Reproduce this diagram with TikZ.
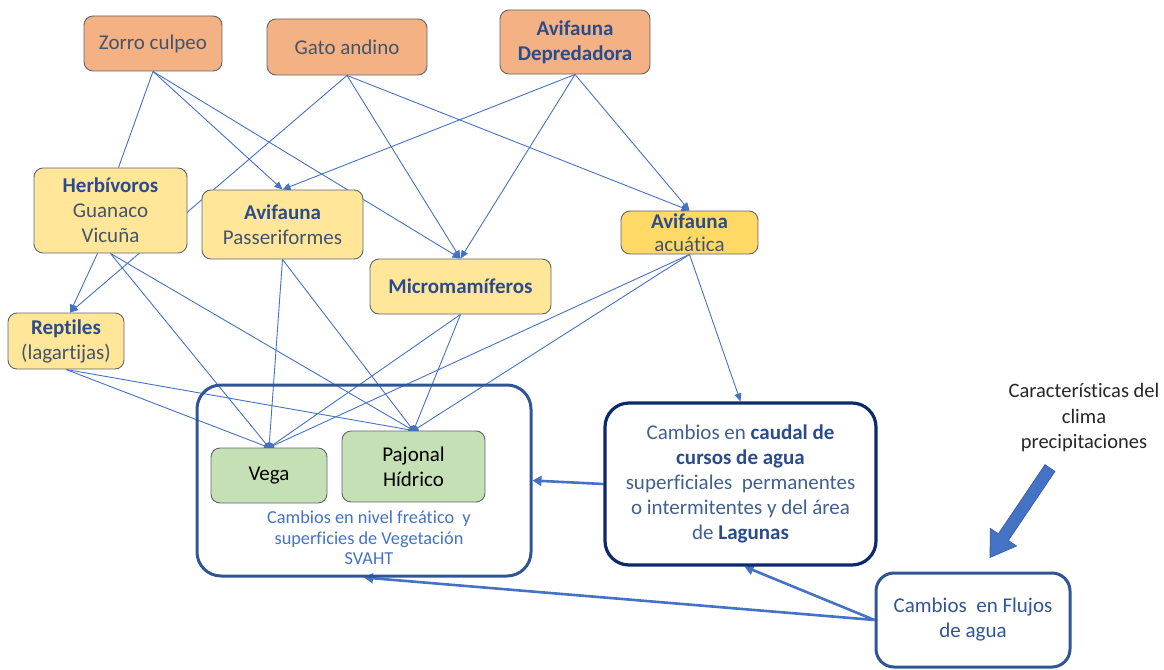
\documentclass[tikz,border=0pt]{standalone}
\usepackage{fontspec}
\setmainfont[Ligatures=NoCommon]{Carlito}
\usetikzlibrary{arrows.meta,calc}
\pgfdeclarelayer{bg}
\pgfsetlayers{bg,main}
\definecolor{predfill}{HTML}{F4B183}
\definecolor{preyfill}{HTML}{FFE699}
\definecolor{acufill}{HTML}{FFD966}
\definecolor{vegfill}{HTML}{C5E0B4}
\definecolor{boxline}{HTML}{5F6670}
\definecolor{slate}{HTML}{44546A}
\definecolor{boldblue}{HTML}{2B4C8C}
\definecolor{linkblue}{HTML}{4472C4}
\definecolor{bigblue}{HTML}{2F5597}
\definecolor{navy}{HTML}{0B2A6B}
\definecolor{caudaltext}{HTML}{41608F}
\tikzset{
  base/.style={rounded corners=9pt, align=center, inner sep=0pt, font=\fontsize{21}{25}\selectfont},
  pred/.style={base, fill=predfill, draw=boxline, line width=0.9pt, text=slate},
  prey/.style={base, fill=preyfill, draw=boxline, line width=0.9pt, text=slate},
  veg/.style={base, fill=vegfill, draw=boxline, line width=0.9pt, text=black},
  bigbox/.style={base, rounded corners=24pt, line width=3pt},
  link/.style={draw=linkblue, line width=0.9pt},
  linkarr/.style={link, -{Triangle[length=8pt,width=7pt]}},
  flowarrow/.style={draw=linkblue, line width=2.6pt, -{Triangle[length=9pt,width=10pt]}},
  bigarrow/.style={fill=linkblue, draw=linkblue!80!black, line width=0.6pt},
  dotmark/.style={fill=linkblue},
}
\begin{document}
\begin{tikzpicture}[x=1pt,y=-1pt]
\useasboundingbox (0,0) rectangle (1164,669);
% predators
\node[pred, minimum width=138pt, minimum height=55pt] (zorro) at (153,43.5) {Zorro culpeo};
\node[pred, minimum width=160pt, minimum height=56pt] (gato) at (347,47) {Gato andino};
\node[pred, minimum width=150pt, minimum height=64pt, text=boldblue, font=\fontsize{21}{25}\selectfont\bfseries] (depre) at (575,42) {Avifauna\\Depredadora};
% prey
\node[prey, minimum width=153pt, minimum height=85pt] (herb) at (110.5,210.5) {\textcolor{boldblue}{\textbf{Herbívoros}}\\Guanaco\\Vicuña};
\node[prey, minimum width=161pt, minimum height=69pt] (pass) at (282.5,224.5) {\textcolor{boldblue}{\textbf{Avifauna}}\\Passeriformes};
\node[prey, minimum width=181pt, minimum height=55pt, text=boldblue, font=\fontsize{21}{25}\selectfont\bfseries] (micro) at (460.5,286.5) {Micromamíferos};
\node[prey, fill=acufill, minimum width=137pt, minimum height=43pt, font=\fontsize{21}{23}\selectfont] (acu) at (689.5,232.5) {\textcolor{boldblue}{\textbf{Avifauna}}\\acuática};
\node[prey, minimum width=116pt, minimum height=56pt] (rept) at (66,341) {\textcolor{boldblue}{\textbf{Reptiles}}\\(lagartijas)};
% vegetation
\node[bigbox, draw=bigblue, minimum width=334pt, minimum height=191pt] (big) at (364,480.5) {};
\node[veg, minimum width=116pt, minimum height=55pt] (vega) at (269,475.5) {Vega};
\node[veg, minimum width=143pt, minimum height=71pt] (paj) at (413.5,466.5) {Pajonal\\Hídrico};
\node[align=center, inner sep=0pt, text=linkblue, font=\fontsize{18.3}{20.5}\selectfont] (svaht) at (369,538) {Cambios en nivel freático\ \ y\\superficies de Vegetación\\SVAHT};
% water
\node[bigbox, draw=navy, line width=3.2pt, text=caudaltext, minimum width=271pt, minimum height=162pt] (caudal) at (740.5,484) {Cambios en \textcolor{boldblue}{\textbf{caudal de}}\\\textcolor{boldblue}{\textbf{cursos de agua}}\\superficiales\ \ permanentes\\o intermitentes y del área\\de \textcolor{boldblue}{\textbf{Lagunas}}};
\node[bigbox, rounded corners=18pt, draw=bigblue, text=bigblue, minimum width=194pt, minimum height=94pt] (flujos) at (973,620) {Cambios\ \ en Flujos\\de agua};
\node[align=center, inner sep=0pt, text=black!85, font=\fontsize{20.5}{25.5}\selectfont] (clima) at (1084,418) {Características del\\clima\\precipitaciones};
% block arrow
\path[bigarrow] (1055,471.4) -- (1008.4,540.5) -- (1016.7,546.0) -- (990,557.5) -- (990.1,528.2) -- (998.4,533.7) -- (1045,464.6) -- cycle;
\begin{pgfonlayer}{bg}
  \draw[link] (zorro.south) -- ([xshift=8pt]herb.north);
  \draw[linkarr] (zorro.south) -- (pass.north);
  \draw[linkarr] (zorro.south) -- (micro.north);
  \draw[linkarr] (gato.south) -- ([xshift=4pt]rept.north);
  \draw[linkarr] (gato.south) -- (micro.north);
  \draw[linkarr] (gato.south) -- (acu.north);
  \draw[linkarr] (depre.south) -- (pass.north);
  \draw[linkarr] (depre.south) -- (micro.north);
  \draw[linkarr] (depre.south) -- (acu.north);
  \draw[linkarr] ([xshift=-13pt]herb.south) -- ([xshift=4pt]rept.north);
  \foreach \s in {herb,rept,pass,micro,acu} {
    \draw[link] (\s.south) -- (vega.north);
    \draw[link] (\s.south) -- (paj.north);
  }
  \draw[linkarr] (acu.south) -- (caudal.north);
  \fill[dotmark] (vega.north) circle (5.5pt);
  \fill[dotmark] (paj.north) circle (5.5pt);
  \draw[flowarrow] (caudal.west) -- (big.east);
  \draw[flowarrow] (flujos.west) -- ([xshift=4pt]caudal.south);
  \draw[flowarrow] (flujos.west) -- (big.south);
\end{pgfonlayer}
\end{tikzpicture}
\end{document}
